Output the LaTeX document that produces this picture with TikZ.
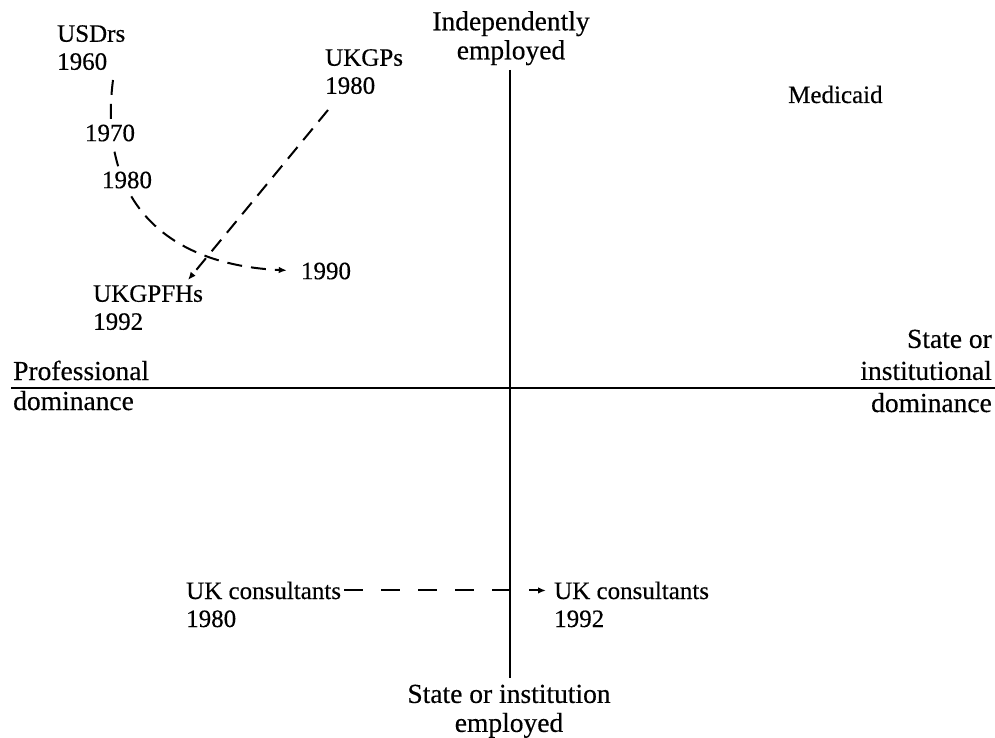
\documentclass[tikz,border=0pt]{standalone}
\usepackage{fontspec}
\setmainfont[FakeBold=0.4]{Liberation Serif}
\usetikzlibrary{arrows.meta}
\begin{document}
\begin{tikzpicture}[x=1pt,y=-1pt,
  lbl/.style={font=\fontsize{25}{28}\selectfont, inner sep=0pt, align=left},
  big/.style={font=\fontsize{27.5}{29}\selectfont, inner sep=0pt},
  mask/.style={lbl, fill=white, inner sep=4pt},
  axis/.style={line width=2.2pt},
  dsh/.style={line width=2pt, dash pattern=on 15pt off 9pt},
  hdsh/.style={line width=2pt, dash pattern=on 19pt off 18pt},
  tip/.style={-{Latex[length=8pt,width=6.5pt]}}]
\useasboundingbox (0,0) rectangle (995,738);
% axes
\coordinate (axt) at (510,70);
\coordinate (axb) at (510,678);
\coordinate (axl) at (11,388);
\coordinate (axr) at (995,388);
\draw[axis] (axt) -- (axb);
\draw[axis] (axl) -- (axr);
% axis labels
\node[big, align=center, anchor=north] (indep) at (511,11) {Independently\\employed};
\node[big, align=center, anchor=north] (inst) at (509,684.5) {State or institution\\employed};
\node[big, anchor=base west] (prof) at (13,380) {Professional};
\node[big, anchor=base west] (profdom) at (13,410) {dominance};
\node[big, font=\fontsize{27.5}{32}\selectfont, align=right, anchor=north east] (state) at (992,329.5) {State or\\institutional};
\node[big, anchor=base east] (statedom) at (992,412) {dominance};
\node[lbl, anchor=base west] (medicaid) at (788,103) {Medicaid};
% upper-left trajectories
\node[lbl, anchor=north west] (usdrs) at (57,25) {USDrs\\1960};
\node[lbl, anchor=north west] (ukgp) at (325,49) {UKGPs\\1980};
\node[lbl, anchor=north west] (ukgpfh) at (93,285) {UKGPFHs\\1992};
\node[lbl] (n1990) at (326,271) {1990};
\coordinate (us0) at (113,80);
\draw[dsh, tip, shorten >=14pt] (us0) .. controls (97,205) and (170,265) .. (n1990.west);
\node[mask] (n1970) at (110,133) {1970};
\node[mask] (n1980) at (127,180) {1980};
\coordinate (gp0) at (328,110);
\coordinate (gp1) at (188,280);
\draw[dsh, tip] (gp0) -- (gp1);
% consultants
\node[lbl, anchor=base west] (ukcA) at (186,599) {UK consultants};
\node[lbl, anchor=base west] (ukcAy) at (186,627) {1980};
\node[lbl, anchor=base west] (ukcB) at (554,599) {UK consultants};
\node[lbl, anchor=base west] (ukcBy) at (554,627) {1992};
\draw[hdsh, tip, shorten <=3pt, shorten >=8pt] (ukcA.east) -- (ukcB.west);
\end{tikzpicture}
\end{document}
